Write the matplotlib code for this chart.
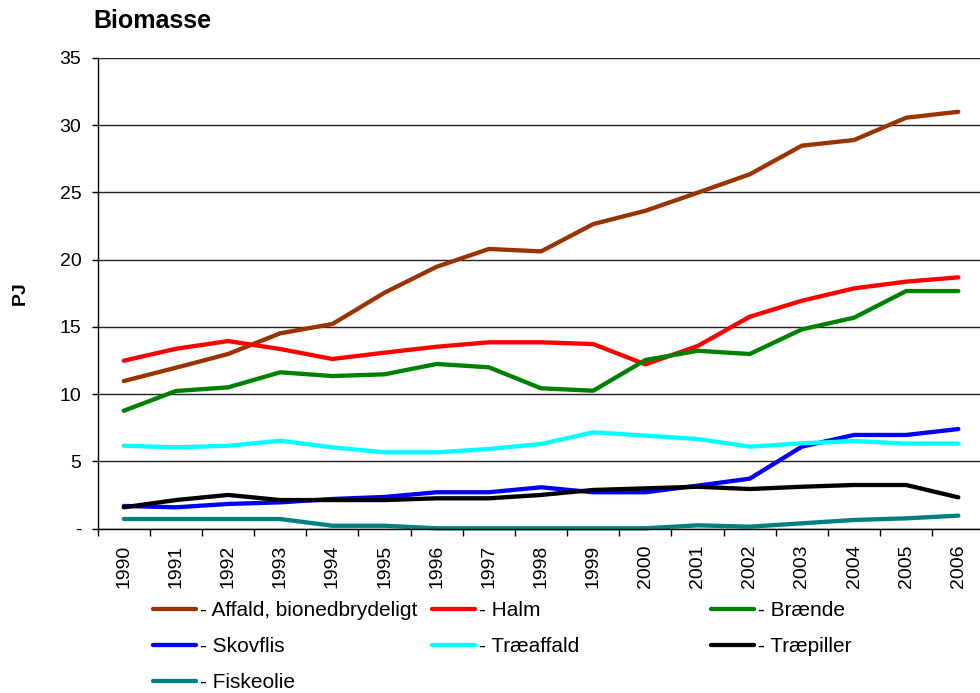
import matplotlib
matplotlib.use("Agg")
import matplotlib.pyplot as plt
from matplotlib.lines import Line2D

plt.rcParams['font.family'] = ['Liberation Sans', 'DejaVu Sans']

years = [str(y) for y in range(1990, 2007)]

affald = [10.98, 11.97, 12.99, 14.53, 15.22, 17.55, 19.48, 20.80, 20.62, 22.65,
          23.64, 24.98, 26.35, 28.48, 28.90, 30.56, 31.00]
halm = [12.49, 13.38, 13.95, 13.36, 12.62, 13.09, 13.53, 13.86, 13.86, 13.73,
        12.22, 13.58, 15.76, 16.95, 17.87, 18.37, 18.69]
braende = [8.77, 10.24, 10.51, 11.63, 11.35, 11.48, 12.25, 12.00, 10.44, 10.26,
           12.54, 13.23, 12.99, 14.82, 15.69, 17.67, 17.67]
skovflis = [1.69, 1.59, 1.84, 1.96, 2.21, 2.36, 2.71, 2.71, 3.08, 2.71,
            2.71, 3.20, 3.72, 6.10, 6.97, 6.97, 7.41]
traeaffald = [6.17, 6.05, 6.17, 6.54, 6.05, 5.68, 5.68, 5.93, 6.30, 7.17,
              6.92, 6.67, 6.10, 6.35, 6.52, 6.33, 6.33]
traepiller = [1.59, 2.13, 2.51, 2.13, 2.13, 2.13, 2.26, 2.26, 2.51, 2.88,
              3.00, 3.12, 2.95, 3.12, 3.25, 3.25, 2.33]
fiskeolie = [0.72, 0.72, 0.72, 0.72, 0.22, 0.22, 0.03, 0.03, 0.03, 0.03,
             0.03, 0.25, 0.15, 0.40, 0.65, 0.77, 0.97]

series_names = ["- Affald, bionedbrydeligt", "- Halm", "- Brænde", "- Skovflis",
                "- Træaffald", "- Træpiller", "- Fiskeolie"]
series_values = [affald, halm, braende, skovflis, traeaffald, traepiller, fiskeolie]
series_colors = ["#993300", "#FF0000", "#008000", "#0000FF", "#00FFFF", "#000000", "#008080"]

yticks = [0, 5, 10, 15, 20, 25, 30, 35]
ytick_labels = ["-", "5", "10", "15", "20", "25", "30", "35"]

W, H = 980, 693
fig = plt.figure(figsize=(W / 100, H / 100), dpi=100)
left, right_px, top, bottom = 97.7, 984.4, 58.0, 528.7
ax = fig.add_axes([left / W, 1 - bottom / H, (right_px - left) / W, (bottom - top) / H])

x = list(range(len(years)))
handles = []
for name, vals, col in zip(series_names, series_values, series_colors):
    ln, = ax.plot(x, vals, color=col, lw=3.1, solid_capstyle='round',
                  solid_joinstyle='round', label=name, clip_on=False)
    handles.append(ln)

ax.set_xlim(-0.5, len(years) - 0.5)
ax.set_ylim(0, 35)
ax.set_yticks(yticks)
ax.set_yticklabels(ytick_labels)
ax.set_xticks(x)
ax.set_xticklabels(years, rotation=90)
ax.set_xticks([i - 0.5 for i in range(len(years) + 1)], minor=True)

ax.tick_params(axis='y', which='major', length=4.3, width=1, direction='out',
               labelsize=14, pad=7.5, color='black')
ax.tick_params(axis='x', which='major', length=0, labelsize=14, pad=11.5)
ax.tick_params(axis='x', which='minor', length=5, width=1, direction='out', color='black')

ax.yaxis.grid(True, color='#222222', lw=1.0)
ax.set_axisbelow(True)
for s in ['top', 'right']:
    ax.spines[s].set_visible(False)
for s in ['left', 'bottom']:
    ax.spines[s].set_color('black')
    ax.spines[s].set_linewidth(1.0)
    ax.spines[s].set_zorder(3)

fig.text(93 / W, 1 - 21 / H, "Biomasse", fontsize=18, fontweight='bold',
         ha='left', va='center')
fig.text(20 / W, 1 - 293.5 / H, "PJ", fontsize=14, fontweight='bold',
         rotation=90, ha='center', va='center')

# legend: three uniform columns, row-major order
ncols = 3
col_x = [153, 432, 711]
legend_top = 601.5
for c in range(ncols):
    idx = list(range(c, len(handles), ncols))
    hs = [Line2D([0], [0], color=series_colors[i], lw=3.1, solid_capstyle='round') for i in idx]
    labs = [series_names[i] for i in idx]
    fig.legend(hs, labs, loc='upper left',
               bbox_to_anchor=(col_x[c] / W, 1 - legend_top / H),
               frameon=False, fontsize=15, handlelength=2.05,
               handletextpad=0.2, labelspacing=0.8, borderpad=0,
               borderaxespad=0)

fig.savefig("out.png", dpi=100)
